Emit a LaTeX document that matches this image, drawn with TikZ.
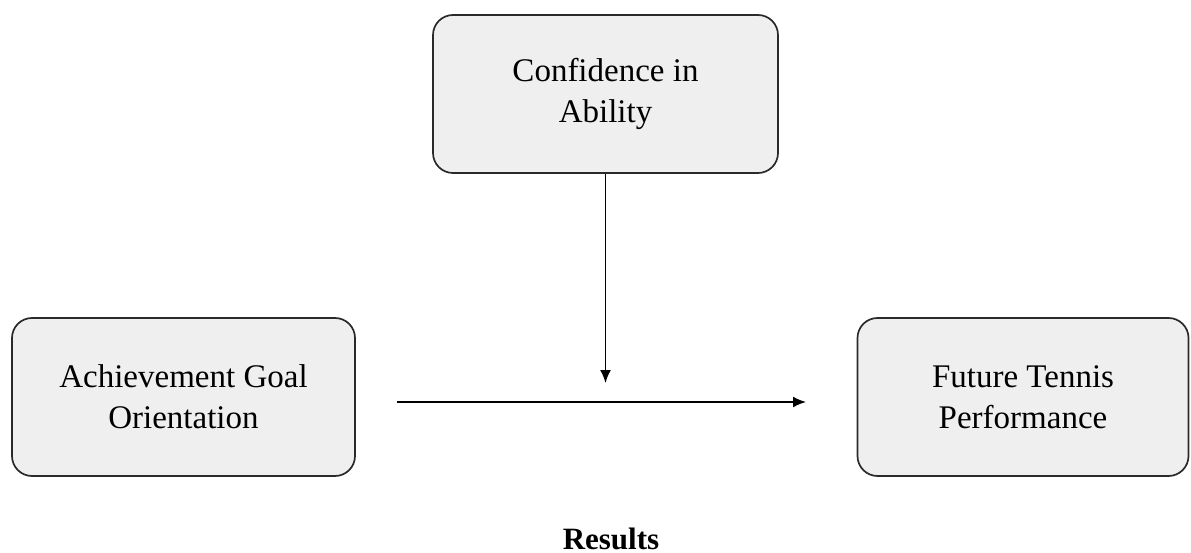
\documentclass[tikz,border=0pt]{standalone}
\usepackage{fontspec}
\setmainfont{Liberation Serif}
\usetikzlibrary{arrows.meta}
\definecolor{boxfill}{HTML}{EFEFEF}
\definecolor{boxline}{HTML}{2A2A2A}
\tikzset{
  varbox/.style={draw=boxline, fill=boxfill, line width=1.7pt, rounded corners=20pt,
    align=center, inner sep=0pt, font=\fontsize{33}{41}\selectfont},
  conn/.style={line width=1.7pt, -{Latex[length=13pt,width=11pt]}}
}
\begin{document}
\begin{tikzpicture}[x=1pt,y=-1pt]
\useasboundingbox (0,0) rectangle (1191,553);
\node[varbox, minimum width=345pt, minimum height=158pt] (ca) at (605.5,94) {Confidence in\\Ability};
\node[varbox, minimum width=343pt, minimum height=158pt] (ago) at (183.5,397) {Achievement Goal\\Orientation};
\node[varbox, minimum width=331pt, minimum height=158pt] (ftp) at (1023,397) {Future Tennis\\Performance};
\coordinate (vd) at (605.5,383);
\coordinate (hs) at (397,402);
\coordinate (he) at (806,402);
\draw[conn] (ca.south) -- (vd);
\draw[conn] (hs) -- (he);
\node[font=\fontsize{31}{36}\selectfont\bfseries, anchor=base, inner sep=0pt] (res) at (611,549) {Results};
\end{tikzpicture}
\end{document}
